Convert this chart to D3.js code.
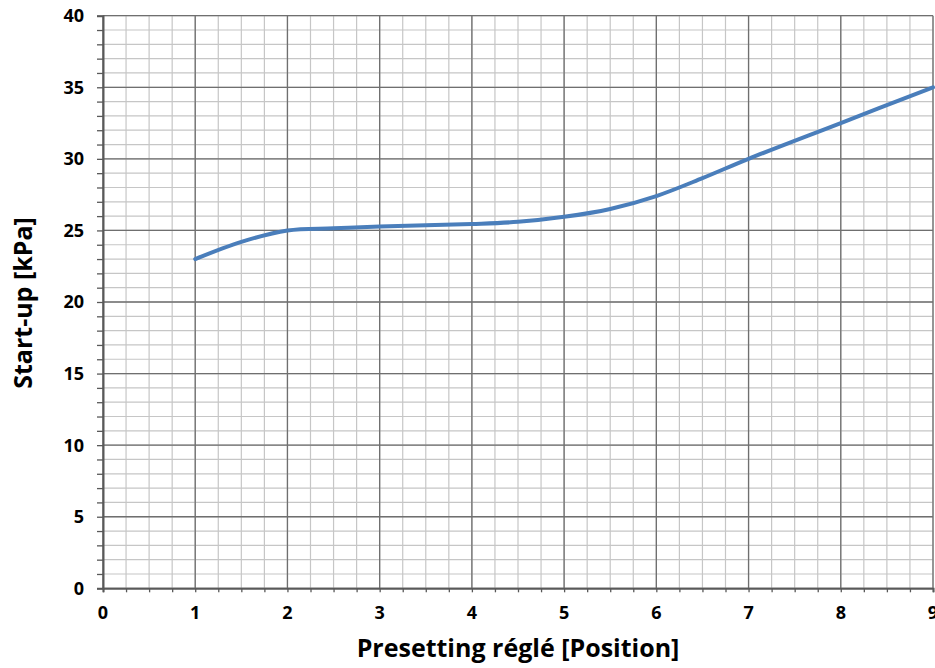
<!DOCTYPE html>
<html>
<head>
<meta charset="utf-8">
<script src="https://cdn.jsdelivr.net/npm/d3@7"></script>
<style>
  html, body { margin: 0; padding: 0; background: #fff; }
  svg { display: block; }
  text { font-family: "Open Sans", "Liberation Sans", Arial, sans-serif; font-weight: bold; fill: #000; }
</style>
</head>
<body>
<svg id="chart" width="935" height="668"></svg>
<script>
// Presetting positions and the corresponding start-up pressure (kPa)
const positions = [1, 1.5, 2, 2.5, 3, 4, 4.5, 5, 5.5, 6, 6.5, 7, 8, 9];
const startUp   = [23, 24.2, 25, 25.15, 25.28, 25.45, 25.6, 25.95, 26.5, 27.4, 28.65, 30, 32.5, 35];
const xTicks = [0, 1, 2, 3, 4, 5, 6, 7, 8, 9];
const yTicks = [0, 5, 10, 15, 20, 25, 30, 35, 40];
const xTitle = "Presetting réglé [Position]";
const yTitle = "Start-up [kPa]";

const svg = d3.select("#chart");
const plot = { left: 103, right: 933, top: 15.7, bottom: 588.3 };

const x = d3.scaleLinear().domain([0, 9]).range([plot.left, plot.right]);
const y = d3.scaleLinear().domain([0, 40]).range([plot.bottom, plot.top]);

// minor grid
const xMinor = d3.range(0, 9.001, 0.25);
const yMinor = d3.range(0, 40.001, 1);
const g = svg.append("g");
g.selectAll(".vmin").data(xMinor).enter().append("line")
  .attr("x1", d => x(d)).attr("x2", d => x(d))
  .attr("y1", y(0)).attr("y2", y(40))
  .attr("stroke", "#c6c6c6").attr("stroke-width", 1.2);
g.selectAll(".hmin").data(yMinor).enter().append("line")
  .attr("x1", x(0)).attr("x2", x(9))
  .attr("y1", d => y(d)).attr("y2", d => y(d))
  .attr("stroke", "#c6c6c6").attr("stroke-width", 1.2);
// major grid
g.selectAll(".vmaj").data(xTicks).enter().append("line")
  .attr("x1", d => x(d)).attr("x2", d => x(d))
  .attr("y1", y(0)).attr("y2", y(40))
  .attr("stroke", "#6f6f6f").attr("stroke-width", 1.3);
g.selectAll(".hmaj").data(yTicks).enter().append("line")
  .attr("x1", x(0)).attr("x2", x(9))
  .attr("y1", d => y(d)).attr("y2", d => y(d))
  .attr("stroke", "#6f6f6f").attr("stroke-width", 1.3);

// axes with small minor ticks
const yAxis = d3.axisLeft(y).tickValues(yMinor).tickSize(6).tickFormat("");
const xAxis = d3.axisBottom(x).tickValues(xMinor).tickSize(4).tickFormat("");
const ya = svg.append("g").attr("transform", `translate(${plot.left},0)`).call(yAxis);
const xa = svg.append("g").attr("transform", `translate(0,${plot.bottom})`).call(xAxis);
[ya, xa].forEach(a => {
  a.select(".domain").attr("stroke", "#595959").attr("stroke-width", 2);
  a.selectAll(".tick line").attr("stroke", "#595959").attr("stroke-width", 1.3);
});

// tick labels
svg.selectAll(".ylab").data(yTicks).enter().append("text")
  .attr("x", 84).attr("y", d => y(d)).attr("dy", "0.36em")
  .attr("text-anchor", "end").attr("font-size", 18).text(d => d);
svg.selectAll(".xlab").data(xTicks).enter().append("text")
  .attr("x", d => x(d)).attr("y", 619)
  .attr("text-anchor", "middle").attr("font-size", 18).text(d => d);

// axis titles
svg.append("text").attr("x", 518).attr("y", 657)
  .attr("text-anchor", "middle").attr("font-size", 25).text(xTitle);
svg.append("text").attr("transform", `translate(32,${303}) rotate(-90)`)
  .attr("text-anchor", "middle").attr("font-size", 25).text(yTitle);

// curve
const pts = positions.map((p, i) => [p, startUp[i]]);
svg.append("path").datum(pts)
  .attr("fill", "none").attr("stroke", "#4a7ebb").attr("stroke-width", 4)
  .attr("stroke-linecap", "round")
  .attr("d", d3.line().x(d => x(d[0])).y(d => y(d[1])).curve(d3.curveCatmullRom.alpha(0.5)));
</script>
</body>
</html>
